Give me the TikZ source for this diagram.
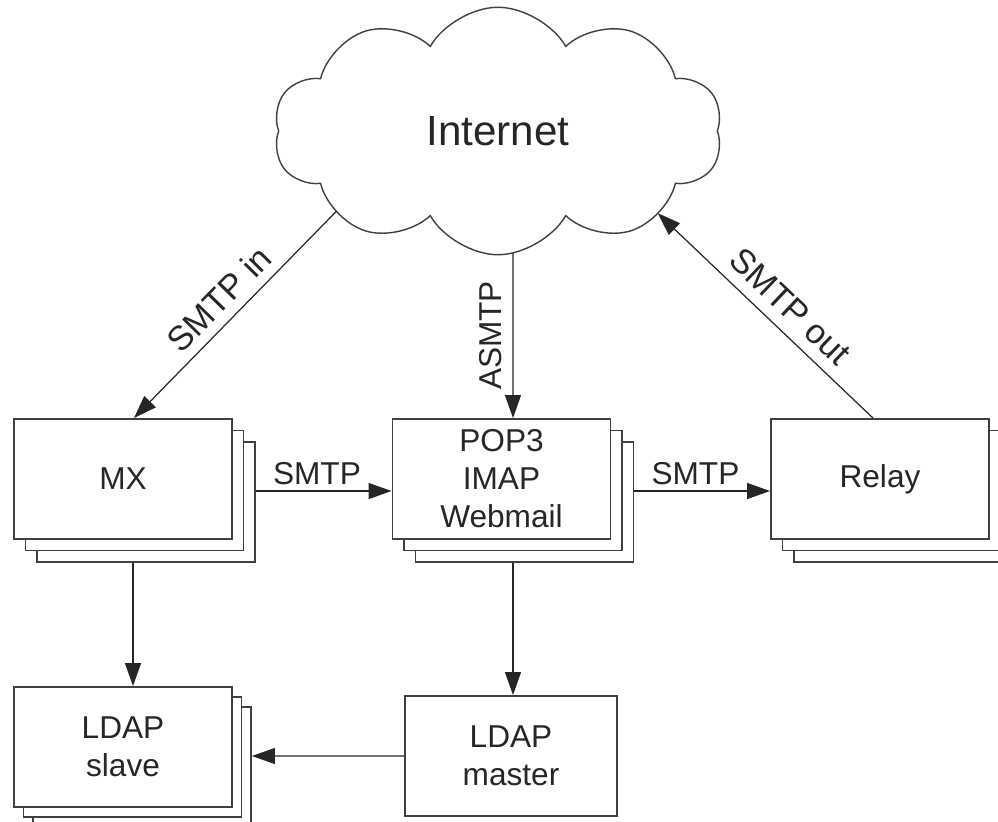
\documentclass[tikz,border=0pt]{standalone}
\usepackage{fontspec}
\setmainfont{Liberation Sans}
\usetikzlibrary{positioning,shapes.symbols,shadows,arrows.meta,calc,intersections}
\tikzset{box/.style={draw=black!75,line width=1.1pt,fill=white,minimum width=4.36cm,minimum height=2.4cm,align=center,text=black!85,font=\fontsize{18}{21.6}\selectfont},
         stack/.style={double copy shadow={shadow xshift=0.23cm,shadow yshift=-0.23cm}},
         link/.style={-{Triangle[length=0.46cm,width=0.32cm]},line width=0.7pt,draw=black!85},
         lbl/.style={font=\fontsize{18}{20}\selectfont,text=black!85},
         dlbl/.style={font=\fontsize{19.5}{22}\selectfont,text=black!85}
}

\begin{document}
\begin{tikzpicture}[x=0.02cm,y=-0.02cm]
  \useasboundingbox (0,0) rectangle (998,822);
  \node[cloud,name path=cloudp,draw=black!75,line width=0.8pt,cloud puffs=10,cloud puff arc=120,cloud ignores aspect,
        minimum width=8.98cm,minimum height=4.95cm,text=black!85,font=\fontsize{24}{28}\selectfont] (inet) at (498,131) {Internet};
  \node[box,stack] (mx) at (123,479) {MX};
  \node[box,stack] (pop) at (501.5,479) {POP3\\IMAP\\Webmail};
  \node[box,stack] (relay) at (880,479) {Relay};
  \node[box,double copy shadow={shadow xshift=0.19cm,shadow yshift=-0.2cm}] (slave) at (123,747) {LDAP\\slave};
  \node[box,minimum width=4.24cm] (master) at (511,756) {LDAP\\master};

  % ends on the stacks
  \coordinate (mx-top) at ([xshift=0.22cm]mx.north);
  \coordinate (pop-top) at ([xshift=0.23cm]pop.north);
  \coordinate (pop-bot) at ([xshift=0.23cm,yshift=-0.46cm]pop.south);
  \coordinate (relay-top) at ([xshift=-0.14cm]relay.north);

  % where the links meet the cloud
  \path[name path=inpath] (mx-top) -- ($(mx-top)!1.6!(323,225)$);
  \path[name path=aspath] (pop-top) -- ++(0,-300);
  \path[name path=outpath] (relay-top) -- ($(relay-top)!1.6!(667,222)$);
  \path[name intersections={of=inpath and cloudp,by=inet-in,sort by=inpath}];
  \path[name intersections={of=aspath and cloudp,by=inet-as,sort by=aspath}];
  \path[name intersections={of=outpath and cloudp,by=inet-out,sort by=outpath}];

  \draw[link] (inet-in) -- node[dlbl,midway,sloped,above=2pt] {SMTP in} (mx-top);
  \draw[link] (inet-as) -- node[lbl,midway,rotate=90,anchor=south,inner sep=6pt] {ASMTP} (pop-top);
  \draw[link] (relay-top) -- node[dlbl,pos=0.46,sloped,above=3pt] {SMTP out} (inet-out);
  \draw[link] ([xshift=0.46cm,yshift=-0.24cm]mx.east) -- node[lbl,pos=0.45,above] {SMTP} ([yshift=-0.24cm]pop.west);
  \draw[link] ([xshift=0.46cm,yshift=-0.24cm]pop.east) -- node[lbl,pos=0.45,above] {SMTP} ([yshift=-0.24cm]relay.west);
  \draw[link] ([xshift=0.2cm,yshift=-0.46cm]mx.south) -- ([xshift=0.2cm]slave.north);
  \draw[link] (pop-bot) -- (pop-top |- master.north);
  \draw[link] (master.west) -- ([xshift=0.38cm,yshift=-0.18cm]slave.east);
\end{tikzpicture}
\end{document}
